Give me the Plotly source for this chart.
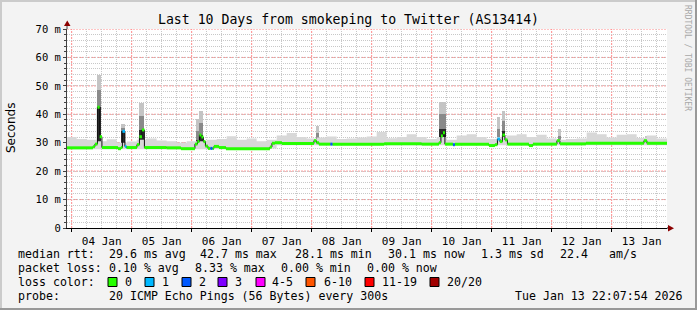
import plotly.graph_objects as go
import pandas as pd

# ---------------- data ----------------
BASE = pd.Timestamp("2026-01-04 00:00:00")
T_START = pd.Timestamp("2026-01-03 22:07:54")
T_END = pd.Timestamp("2026-01-13 22:07:54")

# median rtt (ms) step breakpoints, hours after 04 Jan 00:00, with loss bucket
med_h = [-1.9, 8.5, 9.3, 10.3, 11.2, 12.1, 18.5, 19.7, 20.3, 21.3, 21.9, 26.1, 27.1, 28.1, 29.1,
         38.0, 43.7, 49.3, 50.3, 51.1, 51.9, 52.7, 53.5, 54.5, 55.5, 56.3, 56.9, 58.9, 61.7,
         79.3, 80.1, 81.3, 84.1, 96.9, 97.9, 98.9, 103.5, 104.3, 125.0, 140.0, 146.9, 147.7,
         148.5, 149.3, 152.5, 153.3, 166.9, 169.3, 170.3, 171.3, 172.3, 173.3, 174.3, 182.9,
         184.5, 194.1, 195.3, 205.7, 228.9, 230.1]
med_v = [28.2, 28.6, 29.5, 42.5, 32.1, 28.3, 27.9, 28.3, 34.0, 28.7, 28.3, 29.3, 32.1, 34.5, 28.3,
         28.2, 27.9, 29.5, 30.4, 32.7, 32.0, 30.4, 28.8, 28.0, 28.0, 28.0, 28.7, 28.3, 27.9,
         28.5, 29.8, 30.0, 29.7, 30.7, 30.0, 29.5, 29.5, 29.5, 29.6, 29.5, 30.0, 32.4,
         33.5, 29.5, 29.3, 29.5, 29.0, 29.3, 31.3, 30.4, 32.7, 31.0, 29.5, 29.0,
         29.5, 30.7, 29.6, 29.8, 30.7, 29.8]
med_loss = [0, 0, 0, 0, 0, 0, 0, 0, 1, 1, 0, 0, 0, 0, 0,
            0, 0, 0, 0, 0, 0, 0, 0, 0, 2, 0, 0, 0, 0,
            0, 0, 0, 0, 0, 0, 0, 2, 0, 0, 0, 0, 0,
            0, 0, 2, 0, 0, 0, 1, 0, 0, 0, 0, 0,
            0, 0, 0, 0, 0, 0]
END_H = 238.13

# smoke band (ms) in 4-hour bins starting at the listed hour
smoke_h = list(range(-2, 238, 4))
smoke_hi = [32.0, 31.3, 31.0, 30.5, 31.2, 30.0, 30.4, 31.0, 31.5, 30.8,
            30.5, 30.0, 30.5, 30.5, 31.0, 31.3, 32.3, 31.0, 31.5, 30.5,
            31.0, 32.5, 33.4, 32.0, 31.5, 31.8, 32.2, 31.3, 31.5, 31.8,
            32.2, 33.8, 31.6, 32.0, 33.0, 32.0, 31.3, 32.0, 31.0, 32.5,
            33.0, 32.0, 31.3, 32.0, 32.5, 33.0, 32.0, 32.8, 31.5, 31.0,
            31.3, 31.5, 33.6, 33.0, 31.8, 32.8, 33.0, 31.7, 32.5, 31.5]
smoke_lo = [27.7] * 20 + [28.0] + [29.1] * 39

# smoke spikes (center hour, width hours, base, light top, mid top, dark top)
spike_h = [10.8, 20.6, 28.0, 50.5, 51.8, 98.3, 148.4, 170.6, 172.7, 195.1, 229.9]
spike_w = [1.7, 1.6, 2.0, 1.2, 1.6, 1.2, 2.6, 1.3, 1.4, 1.2, 1.2]
spike_base = [28.2, 28.3, 28.3, 28.3, 28.3, 29.5, 29.5, 29.3, 29.3, 29.5, 29.8]
spike_light = [53.8, 36.6, 43.9, 38.3, 41.0, 35.9, 44.4, 39.2, 41.3, 35.0, 32.5]
spike_mid = [48.5, 35.2, 39.5, 34.0, 37.0, 33.5, 40.0, 35.0, 37.5, 32.5, 31.7]
spike_dark = [42.5, 34.0, 34.5, 31.0, 32.7, 31.5, 35.0, 32.0, 34.0, 31.0, 31.2]

loss_colors = ["#26ff00", "#00b8ff", "#0059ff", "#7e00ff", "#ff00ff", "#ff5500", "#ff0000", "#a10000"]
loss_labels = ["0", "1", "2", "3", "4-5", "6-10", "11-19", "20/20"]

y_ticks = [0, 10, 20, 30, 40, 50, 60, 70]
y_labels = ["0", "10 m", "20 m", "30 m", "40 m", "50 m", "60 m", "70 m"]
day_lines = pd.date_range("2026-01-04", "2026-01-13", freq="D")

# ---------------- geometry ----------------
W, H = 697, 310
PL, PR, PT, PB = 67, 667, 29, 228
MONO = "DejaVu Sans Mono"


def px(x):
    return (x - PL) / (PR - PL)


def py(y):
    return (PB - y) / (PB - PT)


def at(h):
    return BASE + pd.to_timedelta(h, unit="h")


fig = go.Figure()

# smoke band
sx = [at(h) for h in smoke_h] + [at(END_H)]
fig.add_trace(go.Scatter(x=sx, y=smoke_lo + [smoke_lo[-1]], mode="lines",
                         line=dict(width=0, shape="hv"), hoverinfo="skip"))
fig.add_trace(go.Scatter(x=sx, y=smoke_hi + [smoke_hi[-1]], mode="lines",
                         line=dict(width=0, shape="hv"), fill="tonexty",
                         fillcolor="#d8d8d8", hoverinfo="skip"))

# spikes
for tops, col in [(spike_light, "#c4c4c4"), (spike_mid, "#8a8a8a"), (spike_dark, "#2a2a2a")]:
    fig.add_trace(go.Bar(x=[at(h) for h in spike_h],
                         y=[t - b for t, b in zip(tops, spike_base)],
                         base=spike_base,
                         width=[w * 3600000 for w in spike_w],
                         marker=dict(color=col, line=dict(width=0)),
                         hoverinfo="skip"))

# median: thin dark step line for transitions
mx = [at(h) for h in med_h] + [at(END_H)]
fig.add_trace(go.Scatter(x=mx, y=med_v + [med_v[-1]], mode="lines",
                         line=dict(width=1, color="#111111", shape="hv"), hoverinfo="skip"))
# median horizontal segments coloured by loss
for b, col in enumerate(loss_colors):
    xs, ys = [], []
    for i in range(len(med_h)):
        if med_loss[i] != b:
            continue
        h1 = med_h[i + 1] if i + 1 < len(med_h) else END_H
        xs += [at(med_h[i]), at(h1), None]
        ys += [med_v[i], med_v[i], None]
    if xs:
        fig.add_trace(go.Scatter(x=xs, y=ys, mode="lines",
                                 line=dict(width=3, color=col), hoverinfo="skip"))

# ---------------- layout ----------------
DOTS = "1px,1px"
RED_DOTS = "2px,1px"
RED = "#ff8a8a"
shapes = []
# major (red) grid lines
for d in day_lines:
    shapes.append(dict(type="line", xref="x", yref="paper", x0=d, x1=d, y0=0, y1=1,
                       line=dict(color=RED, width=1, dash=RED_DOTS), layer="below"))
for v in y_ticks[1:]:
    shapes.append(dict(type="line", xref="paper", yref="y", x0=0, x1=1, y0=v, y1=v,
                       line=dict(color=RED, width=1, dash=RED_DOTS), layer="below"))
# frame shading
shapes.append(dict(type="rect", xref="paper", yref="paper", x0=px(0), x1=px(W), y0=py(0), y1=py(2),
                   fillcolor="#cbcbcb", line=dict(width=0), layer="above"))
shapes.append(dict(type="rect", xref="paper", yref="paper", x0=px(0), x1=px(2), y0=py(0), y1=py(H),
                   fillcolor="#cbcbcb", line=dict(width=0), layer="above"))
shapes.append(dict(type="rect", xref="paper", yref="paper", x0=px(0), x1=px(W), y0=py(H - 2), y1=py(H),
                   fillcolor="#999999", line=dict(width=0), layer="above"))
shapes.append(dict(type="rect", xref="paper", yref="paper", x0=px(W - 2), x1=px(W), y0=py(0), y1=py(H),
                   fillcolor="#999999", line=dict(width=0), layer="above"))
# axis extensions and arrows
shapes.append(dict(type="line", xref="paper", yref="paper", x0=px(PL), x1=px(PL), y0=py(PT), y1=py(25),
                   line=dict(color="#404040", width=1)))
shapes.append(dict(type="line", xref="paper", yref="paper", x0=px(PR), x1=px(669), y0=py(PB), y1=py(PB),
                   line=dict(color="black", width=1)))
shapes.append(dict(type="path", xref="paper", yref="paper",
                   path=f"M {px(64)} {py(26)} L {px(70.5)} {py(26)} L {px(67.25)} {py(20.5)} Z",
                   fillcolor="#8b0000", line=dict(width=0), layer="above"))
shapes.append(dict(type="path", xref="paper", yref="paper",
                   path=f"M {px(668)} {py(225)} L {px(668)} {py(231.5)} L {px(674)} {py(228.25)} Z",
                   fillcolor="#8b0000", line=dict(width=0), layer="above"))

annotations = []


def text(x, y, s, size=11.6, color="black", anchor="left", angle=0, family=MONO):
    annotations.append(dict(x=px(x), y=py(y), xref="paper", yref="paper", text=s, showarrow=False,
                            xanchor=anchor, yanchor="middle", textangle=angle,
                            font=dict(family=family, size=size, color=color)))


# y axis title & watermark
text(11, 128, "Seconds", size=12, anchor="center", angle=-90, family="DejaVu Sans")
text(687, 58, "RRDTOOL / TOBI OETIKER", size=8, color="#a8a8a8", anchor="center", angle=90)

# legend lines
y1, y2, y3, y4 = 254, 268, 282, 296
for x, s in [(16, "median rtt:"), (107, "29.6 ms avg"), (198, "42.7 ms max"), (293, "28.1 ms min"),
             (386, "30.1 ms now"), (479, "1.3 ms sd"), (558, "22.4"), (607, "am/s")]:
    text(x, y1, s)
for x, s in [(16, "packet loss:"), (107, "0.10 % avg"), (193, "8.33 % max"),
             (279, "0.00 % min"), (365, "0.00 % now")]:
    text(x, y2, s)
text(16, y3, "loss color:")
box_x = [108, 145, 182, 218, 256, 306, 365, 430]
lab_x = [123, 160, 197, 233, 270, 322, 380, 445]
for bx, lx, col, lab in zip(box_x, lab_x, loss_colors, loss_labels):
    shapes.append(dict(type="rect", xref="paper", yref="paper", x0=px(bx), x1=px(bx + 9),
                       y0=py(y3 - 4.5), y1=py(y3 + 4.5), fillcolor=col,
                       line=dict(color="black", width=1), layer="above"))
    text(lx, y3, lab)
text(16, y4, "probe:")
text(107, y4, "20 ICMP Echo Pings (56 Bytes) every 300s")
text(513, y4, "Tue Jan 13 22:07:54 2026")

GRAY = "#c8c8c8"

fig.update_layout(
    width=W, height=H,
    margin=dict(l=PL, r=W - PR, t=PT, b=H - PB),
    paper_bgcolor="#f3f3f3", plot_bgcolor="#ffffff",
    showlegend=False, barmode="overlay", bargap=0,
    title=dict(text="Last 10 Days from smokeping to Twitter (AS13414)", x=0.5, xref="container",
               xanchor="center", y=1 - 19 / H, yanchor="middle", yref="container",
               font=dict(family=MONO, size=13.2, color="black")),
    xaxis=dict(type="date", range=[T_START, T_END], tick0="2026-01-04", dtick=86400000,
               ticklabelmode="period", tickformat="%d %b",
               showgrid=False,
               showline=True, linecolor="black", linewidth=1,
               ticks="outside", ticklen=3, tickcolor="black",
               tickfont=dict(family=MONO, size=11, color="black"),
               minor=dict(dtick=21600000, tick0="2026-01-04", showgrid=True,
                          gridcolor=GRAY, griddash=DOTS, gridwidth=1),
               zeroline=False, fixedrange=True),
    yaxis=dict(range=[0, 70], tickvals=y_ticks, ticktext=y_labels,
               showgrid=False,
               showline=True, linecolor="#404040", linewidth=1,
               ticks="outside", ticklen=3, tickcolor="#404040",
               tickfont=dict(family=MONO, size=10.5, color="black"),
               minor=dict(dtick=2, tick0=0, showgrid=True, gridcolor=GRAY,
                          griddash=DOTS, gridwidth=1, ticks="outside", ticklen=2,
                          tickcolor="#404040"),
               zeroline=False, fixedrange=True),
    shapes=shapes, annotations=annotations,
)

fig.write_html("out.html")
